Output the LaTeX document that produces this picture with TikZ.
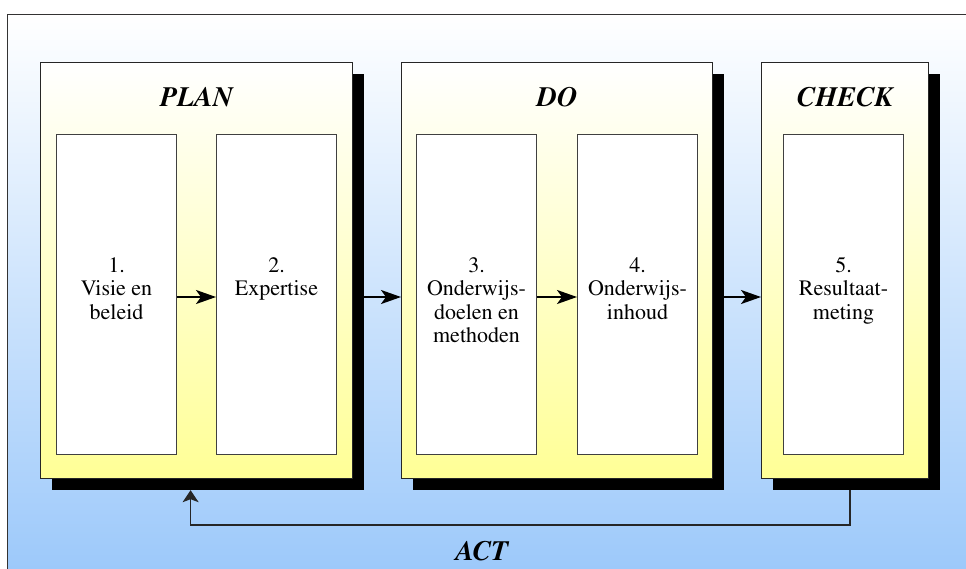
\documentclass[tikz,border=0pt]{standalone}
\usepackage[T1]{fontenc}
\usepackage{times}
\usepackage{tikz}
\usetikzlibrary{arrows.meta,positioning,shadows}

\definecolor{skyblue}{RGB}{155,200,250}
\definecolor{paleyellow}{RGB}{255,255,150}

\tikzset{
  panel/.style={draw=black!85,line width=1.2pt,top color=white,bottom color=paleyellow,
    minimum height=416pt,anchor=north west,inner sep=0pt,
    drop shadow={shadow xshift=11pt,shadow yshift=-11pt,fill=black,opacity=1}},
  stepbox/.style={draw=black!75,line width=1pt,fill=white,minimum width=120pt,
    minimum height=320pt,anchor=north west,inner sep=0pt},
  steptext/.style={align=center,anchor=north,inner sep=0pt,
    font=\fontsize{22}{23.5}\selectfont},
  phase/.style={anchor=base,inner sep=0pt,font=\fontsize{28}{32}\selectfont\bfseries\itshape},
  flow/.style={->,line width=1.8pt},
}

\begin{document}
\begin{tikzpicture}[x=1pt,y=-1pt,>={Stealth[length=20pt,width=14pt,inset=5pt]}]
\clip (0,0) rectangle (966,568);
% background frame
\draw[black!80,top color=white,bottom color=skyblue] (7,14) rectangle (980,580);

% phases
\node[panel,minimum width=312pt] (plan) at (40,62) {};
\node[panel,minimum width=311pt] (do) at (401,62) {};
\node[panel,minimum width=167pt] (check) at (761,62) {};
\node[phase] (plantitle) at (plan.north |- 0,106) {PLAN};
\node[phase] (dotitle) at (do.north |- 0,106) {DO};
\node[phase] (checktitle) at (check.north |- 0,106) {CHECK};

% steps
\node[stepbox] (visie) at (56,134) {};
\node[stepbox] (expertise) at (216,134) {};
\node[stepbox] (doelen) at (416,134) {};
\node[stepbox] (inhoud) at (577,134) {};
\node[stepbox] (meting) at (783,134) {};
\node[steptext] (visietext) at ([yshift=-123pt]visie.north) {1.\\Visie en\\beleid};
\node[steptext] (expertisetext) at ([yshift=-123pt]expertise.north) {2.\\Expertise};
\node[steptext] (doelentext) at ([yshift=-123pt]doelen.north) {3.\\Onderwijs-\\doelen en\\methoden};
\node[steptext] (inhoudtext) at ([yshift=-123pt]inhoud.north) {4.\\Onderwijs-\\inhoud};
\node[steptext] (metingtext) at ([yshift=-123pt]meting.north) {5.\\Resultaat-\\meting};

% arrows
\coordinate (flowline) at (0,297);
\draw[flow] (visie.east |- flowline) -- (expertise.west |- flowline);
\draw[flow] (plan.east |- flowline) -- (do.west |- flowline);
\draw[flow] (doelen.east |- flowline) -- (inhoud.west |- flowline);
\draw[flow] (do.east |- flowline) -- (check.west |- flowline);

% act loop
\coordinate (actline) at (0,525);
\coordinate (actstart) at ([xshift=5pt,yshift=-11pt]check.south);
\coordinate (actend) at ([xshift=-6pt,yshift=-11pt]plan.south);
\draw[line width=1.3pt,black!85,-{Stealth[length=12pt,width=16pt,inset=3pt]}]
  (actstart) -- (actstart |- actline) -| (actend);
\node[phase] (act) at (482,560) {ACT};
\end{tikzpicture}
\end{document}
